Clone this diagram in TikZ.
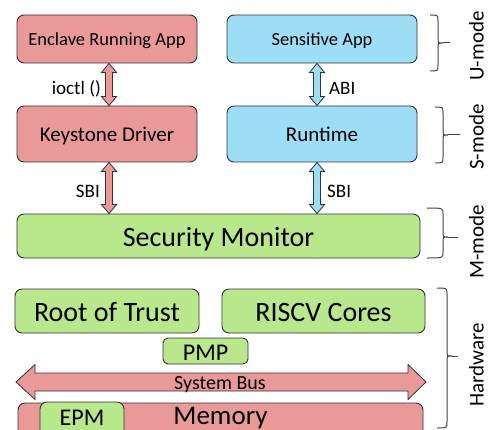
\documentclass[tikz,border=0pt]{standalone}
\usepackage{fontspec}
\setmainfont{Carlito}
\usetikzlibrary{calc}
\definecolor{pinkc}{HTML}{EA9999}
\definecolor{greenc}{HTML}{B9E78C}
\definecolor{bluec}{HTML}{9DDDF5}
\definecolor{outl}{HTML}{333333}
\definecolor{bracec}{HTML}{444444}
\newcommand\fs[1]{\fontsize{#1}{#1}\selectfont}
\newcommand\vdarr[3]{%
  \path[darrow, fill=#3] let \p1=(#1), \p2=(#2) in
    (\x1,\y1) -- (\x1+7.5pt,\y1-9pt) -- (\x1+3.5pt,\y1-9pt) -- (\x1+3.5pt,\y2+9pt)
    -- (\x1+7.5pt,\y2+9pt) -- (\x1,\y2) -- (\x1-7.5pt,\y2+9pt) -- (\x1-3.5pt,\y2+9pt)
    -- (\x1-3.5pt,\y1-9pt) -- (\x1-7.5pt,\y1-9pt) -- cycle;}
\newcommand\mbrace[6]{%
  \draw[brc] (#1,#4) .. controls (#2,#4) .. (#2,#4+6) -- (#2,#5-5)
    .. controls (#2,#5) .. (#2+5,#5) .. controls (#2,#5) .. (#2,#5+5)
    -- (#2,#6-6) .. controls (#2,#6) .. (#1,#6);
  \draw[brc] (#2+5,#5) -- (#3,#5);}
\tikzset{
  box/.style={draw=outl, line width=0.9pt, rounded corners=7pt, inner sep=0pt,
    font=\fs{#1}, text height=0.75*#1pt, text depth=0pt},
  lbl/.style={inner sep=0pt, font=\fs{19}},
  modelbl/.style={rotate=90, inner sep=0pt, font=\fs{21}},
  brc/.style={draw=bracec, line width=1pt},
  darrow/.style={draw=outl, line width=0.8pt},
}
\begin{document}
\begin{tikzpicture}[x=1pt, y=-1pt]
\useasboundingbox (0,0) rectangle (489,430);
% boxes
\node[box=18.5, fill=pinkc, minimum width=180pt, minimum height=48pt] (era) at (107,39) {Enclave Running App};
\node[box=18.5, fill=bluec, minimum width=190pt, minimum height=48pt] (sapp) at (322,39) {Sensitive App};
\node[box=21, fill=pinkc, minimum width=180pt, minimum height=56pt] (kd) at (107,134) {Keystone Driver};
\node[box=21, fill=bluec, minimum width=190pt, minimum height=56pt] (rt) at (322,134) {Runtime};
\node[box=28, fill=greenc, minimum width=403pt, minimum height=44pt] (sm) at (218.5,236) {Security Monitor};
\node[box=28, fill=greenc, minimum width=184pt, minimum height=44pt] (rot) at (107,311) {Root of Trust};
\node[box=28, fill=greenc, minimum width=203pt, minimum height=44pt] (risc) at (323.5,311) {RISCV Cores};
\node[box=24, fill=greenc, minimum width=85pt, minimum height=26pt, rounded corners=5pt] (pmp) at (205.5,351) {PMP};
% system bus
\path[darrow, fill=pinkc] (16,382) -- (35,364.5) -- (35,373) -- (408,373) -- (408,364.5) -- (426,382)
  -- (408,399.5) -- (408,391) -- (35,391) -- (35,399.5) -- cycle;
\node[inner sep=0pt, font=\fs{20}, anchor=base] (bus) at (220,389) {System Bus};
% memory
\node[box=27, fill=pinkc, minimum width=405pt, minimum height=42pt, text depth=20.25pt] (mem) at (220.5,424) {Memory};
\node[box=24, fill=greenc, minimum width=84pt, minimum height=43pt, text depth=15pt] (epm) at (82,423.5) {EPM};
% arrows
\vdarr{[xshift=2pt]era.south}{kd.north}{pinkc}
\vdarr{[xshift=-5pt]sapp.south}{rt.north}{bluec}
\vdarr{[xshift=2pt]kd.south}{sm.north}{pinkc}
\vdarr{[xshift=-5pt]rt.south}{sm.north}{bluec}
% arrow labels
\node[lbl, anchor=base east] (l1) at (101,95) {ioctl ()};
\node[lbl, anchor=base east] (l2) at (100,198) {SBI};
\node[lbl, anchor=base west] (l3) at (329,95) {ABI};
\node[lbl, anchor=base west] (l4) at (327,197) {SBI};
% braces
\mbrace{430}{438}{450}{15}{43}{71}
\mbrace{435}{443}{460}{107}{135}{163}
\mbrace{427}{443}{458}{208}{237}{258}
\mbrace{437}{447}{458}{288}{356}{428}
\node[modelbl] (um) at (476.5,46) {U-mode};
\node[modelbl] (smode) at (476.5,137) {S-mode};
\node[modelbl] (mm) at (476.5,242) {M-mode};
\node[modelbl] (hw) at (476.5,365) {Hardware};
\end{tikzpicture}
\end{document}
